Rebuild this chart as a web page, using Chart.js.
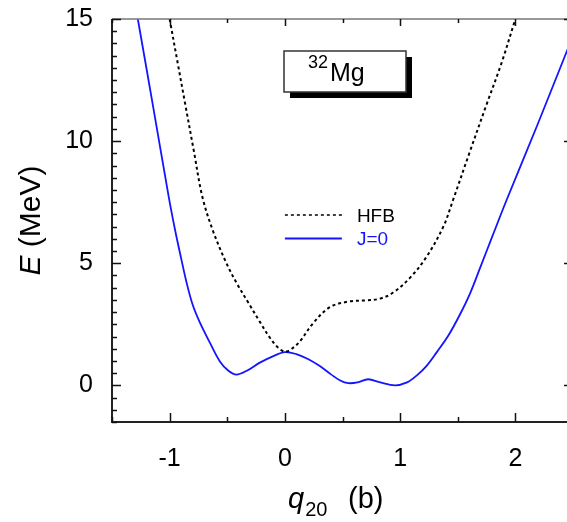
<!DOCTYPE html>
<html>
<head>
<meta charset="utf-8">
<script src="https://cdn.jsdelivr.net/npm/chart.js@4.4.0/dist/chart.umd.min.js"></script>
<style>
  html, body { margin: 0; padding: 0; background: #fff; overflow: hidden; }
  #wrap { width: 580px; height: 522px; }
</style>
</head>
<body>
<div id="wrap"><canvas id="myChart" width="580" height="522"></canvas></div>
<script>
// values
const hfbQ = [-1.0, -0.93, -0.868, -0.79, -0.715, -0.622, -0.507, -0.42, -0.319, -0.217, -0.13, -0.06, 0,
  0.06, 0.13, 0.246, 0.39, 0.55, 0.7, 0.825, 0.94, 1.085, 1.23, 1.375, 1.46, 1.6, 1.75, 1.88, 2.0];
const hfbE = [15, 13.2, 11.6, 9.6, 7.7, 6.3, 5.0, 4.2, 3.4, 2.6, 1.95, 1.55, 1.38,
  1.5, 1.8, 2.55, 3.2, 3.43, 3.48, 3.55, 3.8, 4.4, 5.27, 6.5, 7.6, 9.5, 11.5, 13.2, 15];

const j0Q = [-1.276, -1.15, -1.007, -0.95, -0.9, -0.85, -0.8, -0.74, -0.651, -0.564, -0.49, -0.42,
  -0.33, -0.217, -0.1, 0, 0.1, 0.2, 0.3, 0.4, 0.48, 0.55, 0.63, 0.723, 0.82, 0.955,
  1.06, 1.143, 1.23, 1.317, 1.42, 1.519, 1.61, 1.693, 1.8, 1.924, 2.19, 2.45, 2.5];
const j0E = [15, 11.6, 7.7, 6.3, 5.2, 4.15, 3.3, 2.6, 1.75, 0.98, 0.6, 0.44,
  0.6, 0.93, 1.2, 1.36, 1.28, 1.08, 0.8, 0.45, 0.2, 0.09, 0.12, 0.25, 0.13, 0.0,
  0.12, 0.4, 0.8, 1.35, 2.05, 2.9, 3.8, 4.8, 6.1, 7.59, 10.65, 13.72, 14.3];

const seriesLabels = ['HFB', 'J=0'];
const xTicks = [-1, 0, 1, 2];
const yTicks = [0, 5, 10, 15];

const FONT = '"Liberation Sans", Arial, Helvetica, sans-serif';
const BLUE = 'rgb(20,20,255)';

function toPoints(xs, ys) {
  return xs.map((x, i) => ({ x: x, y: ys[i] }));
}

// frame, inward ticks, axis titles, legend and the nucleus box
const decor = {
  id: 'decor',
  afterDraw(chart) {
    const ctx = chart.ctx;
    const a = chart.chartArea;
    const xs = chart.scales.x, ys = chart.scales.y;
    ctx.save();

    // frame
    ctx.strokeStyle = '#222';
    ctx.lineWidth = 2;
    ctx.beginPath();
    ctx.moveTo(a.left, a.top); ctx.lineTo(a.left, a.bottom); ctx.lineTo(a.right, a.bottom);
    ctx.stroke();
    ctx.strokeStyle = '#777';
    ctx.lineWidth = 1.5;
    ctx.beginPath();
    ctx.moveTo(a.left, a.top); ctx.lineTo(a.right, a.top); ctx.lineTo(a.right, a.bottom);
    ctx.stroke();

    // ticks
    ctx.strokeStyle = '#111';
    ctx.lineWidth = 1.5;
    ctx.beginPath();
    for (let v = -1.5; v <= 2.5001; v += 0.5) {
      const px = Math.round(xs.getPixelForValue(v)) + 0.5;
      const major = Math.abs(v - Math.round(v)) < 1e-6;
      const lb = major ? 9 : 5, lt = major ? 7 : 4;
      ctx.moveTo(px, a.bottom); ctx.lineTo(px, a.bottom - lb);
      ctx.moveTo(px, a.top); ctx.lineTo(px, a.top + lt);
    }
    for (let v = -1.5; v <= 15.0001; v += 0.5) {
      const py = Math.round(ys.getPixelForValue(v)) + 0.5;
      const major = Math.abs(v / 5 - Math.round(v / 5)) < 1e-6;
      const l = major ? 9 : 5;
      ctx.moveTo(a.left, py); ctx.lineTo(a.left + l, py);
      ctx.moveTo(a.right, py); ctx.lineTo(a.right - l, py);
    }
    ctx.stroke();

    ctx.fillStyle = '#000';
    ctx.textBaseline = 'alphabetic';
    ctx.textAlign = 'left';

    // x title: q_20 (b)
    const x0 = a.left + 176;
    const base = 508;
    ctx.font = 'italic 29px ' + FONT;
    const qW = ctx.measureText('q').width;
    ctx.fillText('q', x0, base);
    ctx.font = '20px ' + FONT;
    ctx.fillText('20', x0 + qW + 1, base + 8);
    ctx.font = '29px ' + FONT;
    ctx.fillText('(b)', x0 + 60, base);

    // y title: E (MeV)
    ctx.save();
    ctx.translate(40, (a.top + a.bottom) / 2);
    ctx.rotate(-Math.PI / 2);
    ctx.font = 'italic 30px ' + FONT;
    const eW = ctx.measureText('E').width;
    ctx.font = '30px ' + FONT;
    const mW = ctx.measureText(' (MeV)').width;
    const y0 = -(eW + mW) / 2;
    ctx.font = 'italic 30px ' + FONT;
    ctx.fillText('E', y0, 0);
    ctx.font = '30px ' + FONT;
    ctx.fillText(' (MeV)', y0 + eW, 0);
    ctx.restore();

    // legend
    const ds = chart.data.datasets;
    const lx = xs.getPixelForValue(0), lx2 = lx + 57;
    const rows = [215, 238.5];
    ds.forEach((d, i) => {
      ctx.strokeStyle = d.borderColor;
      ctx.lineWidth = d.borderDash.length ? 1.5 : 2;
      ctx.setLineDash(d.borderDash);
      ctx.beginPath();
      ctx.moveTo(lx, rows[i]); ctx.lineTo(lx2, rows[i]);
      ctx.stroke();
      ctx.setLineDash([]);
      ctx.fillStyle = d.borderColor;
      ctx.font = '19px ' + FONT;
      ctx.textBaseline = 'middle';
      ctx.fillText(d.label, lx2 + 15, rows[i] + 1.5);
    });

    // nucleus box with shadow
    const bx = 284, by = 51, bw = 122, bh = 41;
    ctx.fillStyle = '#000';
    ctx.fillRect(bx + 6, by + 6, bw, bh);
    ctx.fillStyle = '#fff';
    ctx.fillRect(bx, by, bw, bh);
    ctx.strokeStyle = '#333';
    ctx.lineWidth = 1.5;
    ctx.strokeRect(bx, by, bw, bh);
    ctx.fillStyle = '#000';
    ctx.textBaseline = 'alphabetic';
    ctx.font = '18px ' + FONT;
    ctx.fillText('32', 308, 68);
    const w32 = ctx.measureText('32').width;
    ctx.font = '25px ' + FONT;
    ctx.fillText('Mg', 308 + w32 + 2, 81);

    ctx.restore();
  }
};

const ctx = document.getElementById('myChart').getContext('2d');

const chartConfig = {
  type: 'line',
  data: {
    datasets: [{
      label: seriesLabels[0],
      data: toPoints(hfbQ, hfbE),
      borderColor: '#000',
      borderWidth: 2,
      borderDash: [3, 3],
      pointRadius: 0,
      tension: 0.35,
      fill: false
    }, {
      label: seriesLabels[1],
      data: toPoints(j0Q, j0E),
      borderColor: BLUE,
      borderWidth: 1.8,
      borderDash: [],
      pointRadius: 0,
      tension: 0.35,
      fill: false
    }]
  },
  options: {
    responsive: false,
    animation: false,
    layout: { padding: { top: 19, right: 7, left: 0, bottom: 0 } },
    plugins: { legend: { display: false }, tooltip: { enabled: false } },
    scales: {
      x: {
        type: 'linear',
        min: -1.5,
        max: 2.5,
        grid: { display: false, drawTicks: false },
        border: { display: false },
        afterBuildTicks: s => { s.ticks = xTicks.map(v => ({ value: v })); },
        afterFit: s => { s.height = 100; s.paddingLeft = 0; s.paddingRight = 0; },
        ticks: { color: '#000', padding: 22, font: { family: FONT, size: 25 } }
      },
      y: {
        type: 'linear',
        min: -1.5,
        max: 15,
        grid: { display: false, drawTicks: false },
        border: { display: false },
        afterBuildTicks: s => { s.ticks = yTicks.map(v => ({ value: v })); },
        afterFit: s => { s.width = 112; s.paddingTop = 0; s.paddingBottom = 0; },
        ticks: { color: '#000', padding: 19, font: { family: FONT, size: 25 } }
      }
    }
  },
  plugins: [decor]
};

new Chart(ctx, chartConfig);
</script>
</body>
</html>
